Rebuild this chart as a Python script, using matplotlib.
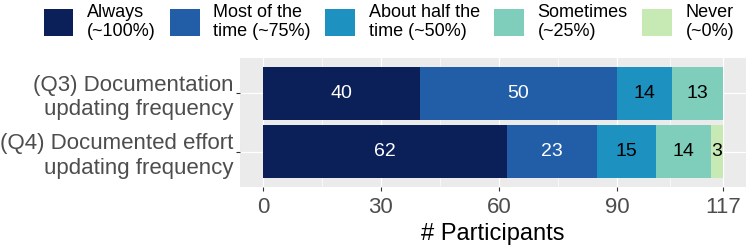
import numpy as np
import matplotlib.pyplot as plt
from matplotlib.patches import Patch

plt.rcParams['font.family'] = ['Liberation Sans', 'DejaVu Sans']

# Data
questions = ["(Q3) Documentation\nupdating frequency",
             "(Q4) Documented effort\nupdating frequency"]
answers = ["Always\n(~100%)", "Most of the\ntime (~75%)", "About half the\ntime (~50%)",
           "Sometimes\n(~25%)", "Never\n(~0%)"]
counts_q3 = [40, 50, 14, 13, 0]
counts_q4 = [62, 23, 15, 14, 3]
xticks = [0, 30, 60, 90, 117]

colors = ['#0b1f59', '#225ea8', '#1d91c0', '#7fcdbb', '#c7e9b4']
text_colors = ['white', 'white', 'black', 'black', 'black']

fig = plt.figure(figsize=(7.47, 2.49), dpi=100)
ax = fig.add_axes([240/747, 62/249, 506/747, 129/249])
ax.set_facecolor('#ebebeb')

# Q3 on top
rows = [counts_q3, counts_q4]
ypos = [1, 0]
for y, counts in zip(ypos, rows):
    left = 0
    for i, c in enumerate(counts):
        if c > 0:
            ax.barh(y, c, left=left, height=0.9, color=colors[i], zorder=3)
            ax.text(left + c / 2, y, str(c), ha='center', va='center',
                    color=text_colors[i], fontsize=14, zorder=4)
        left += c

total = sum(counts_q3)
ax.set_xlim(-0.05 * total, total * 1.05)
ax.set_ylim(-0.6, 1.6)
ax.set_xticks(xticks)
ax.set_xticks([(a + b) / 2 for a, b in zip(xticks[:-1], xticks[1:])], minor=True)
ax.set_yticks(ypos)
ax.set_yticklabels(questions)
ax.grid(which='major', color='white', linewidth=0.9, zorder=0)
ax.grid(which='minor', axis='x', color='white', linewidth=0.45, zorder=0)
ax.set_axisbelow(True)
for s in ax.spines.values():
    s.set_visible(False)
ax.tick_params(axis='both', which='major', length=3, width=0.8, color='#333333',
               labelcolor='#4d4d4d', labelsize=16, pad=2)
ax.tick_params(axis='x', which='major', pad=4.5)
ax.tick_params(axis='x', which='minor', length=0)
ax.set_xlabel("# Participants", fontsize=17, color='black', labelpad=3)

handles = [Patch(facecolor=c, edgecolor='none') for c in colors]
fig.legend(handles, answers, loc='upper left', bbox_to_anchor=(40/747, 1.0), ncol=5,
           frameon=False, fontsize=13, handlelength=1.65, handleheight=1.9,
           handletextpad=0.75, columnspacing=0.8, borderaxespad=0.1, borderpad=0.1,
           labelspacing=0.2)

fig.savefig('out.png', dpi=100, facecolor='white')
